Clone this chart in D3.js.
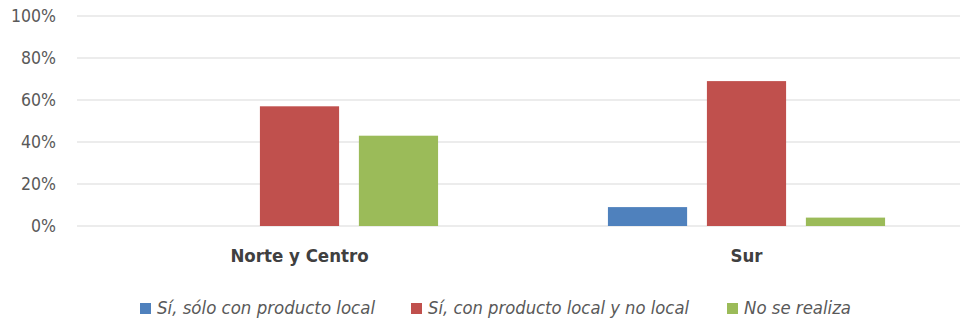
<!DOCTYPE html>
<html>
<head>
<meta charset="utf-8">
<script src="https://cdn.jsdelivr.net/npm/d3@7"></script>
<style>
  body { margin: 0; background: #fff; }
  svg { font-family: "DejaVu Sans Condensed", "Liberation Sans Narrow", sans-serif; }
</style>
</head>
<body>
<svg id="chart" width="960" height="322"></svg>
<script>
const categories = ['Norte y Centro', 'Sur'];
const series = ['Sí, sólo con producto local', 'Sí, con producto local y no local', 'No se realiza'];
const soloLocal = [0, 9];
const localYNoLocal = [57, 69];
const noSeRealiza = [43, 4];
const yTicks = [0, 20, 40, 60, 80, 100];
const colors = ['#4F81BD', '#C0504D', '#9BBB59'];

const values = [soloLocal, localYNoLocal, noSeRealiza];
const rows = categories.map((c, i) => ({
    cat: c,
    vals: series.map((s, j) => ({ s, v: values[j][i], j }))
}));

const svg = d3.select('#chart');

// scales
const x0 = d3.scaleBand()
    .domain(categories)
    .range([76, 970])
    .paddingInner(0.38)
    .paddingOuter(0.19);

const x1 = d3.scaleBand()
    .domain(series)
    .range([0, x0.bandwidth()])
    .paddingInner(0.2);

const y = d3.scaleLinear()
    .domain([0, 100])
    .range([226, 16]);

// gridlines
svg.append('g')
    .selectAll('line')
    .data(yTicks)
    .enter()
    .append('line')
    .attr('x1', 77)
    .attr('x2', 960)
    .attr('y1', d => y(d))
    .attr('y2', d => y(d))
    .attr('stroke', '#D9D9D9')
    .attr('stroke-width', 1.2);

// y axis
const yAxis = svg.append('g')
    .attr('transform', 'translate(60,0)')
    .call(d3.axisLeft(y).tickValues(yTicks).tickFormat(d => d + '%').tickSize(0).tickPadding(4));
yAxis.select('.domain').remove();
yAxis.selectAll('text')
    .attr('fill', '#595959')
    .style('font-size', '17.5px')
    .style('font-family', '"DejaVu Sans Condensed", sans-serif');

// bars
svg.append('g')
    .selectAll('g')
    .data(rows)
    .enter()
    .append('g')
    .attr('transform', d => `translate(${x0(d.cat)},0)`)
    .selectAll('rect')
    .data(d => d.vals)
    .enter()
    .append('rect')
    .attr('x', d => x1(d.s))
    .attr('y', d => y(d.v))
    .attr('width', x1.bandwidth())
    .attr('height', d => y(0) - y(d.v))
    .attr('fill', d => colors[d.j]);

// x axis
const xAxis = svg.append('g')
    .attr('transform', 'translate(0,226)')
    .call(d3.axisBottom(x0).tickSize(0).tickPadding(23));
xAxis.select('.domain').remove();
xAxis.selectAll('text')
    .attr('fill', '#404040')
    .style('font-size', '18.5px')
    .style('font-weight', 'bold')
    .style('font-family', '"DejaVu Sans Condensed", sans-serif');

// legend
const legendX = [140, 411, 727];
const legendW = [218, 261, 107];
const legend = svg.append('g')
    .selectAll('g')
    .data(series)
    .enter()
    .append('g')
    .attr('transform', (d, i) => `translate(${legendX[i]},302)`);

legend.append('rect')
    .attr('width', 11)
    .attr('height', 11)
    .attr('y', 1)
    .attr('fill', (d, i) => colors[i]);

legend.append('text')
    .attr('x', 17)
    .attr('y', 12)
    .attr('fill', '#595959')
    .attr('textLength', (d, i) => legendW[i])
    .attr('lengthAdjust', 'spacingAndGlyphs')
    .style('font-size', '17.5px')
    .style('font-style', 'italic')
    .text(d => d);
</script>
</body>
</html>
